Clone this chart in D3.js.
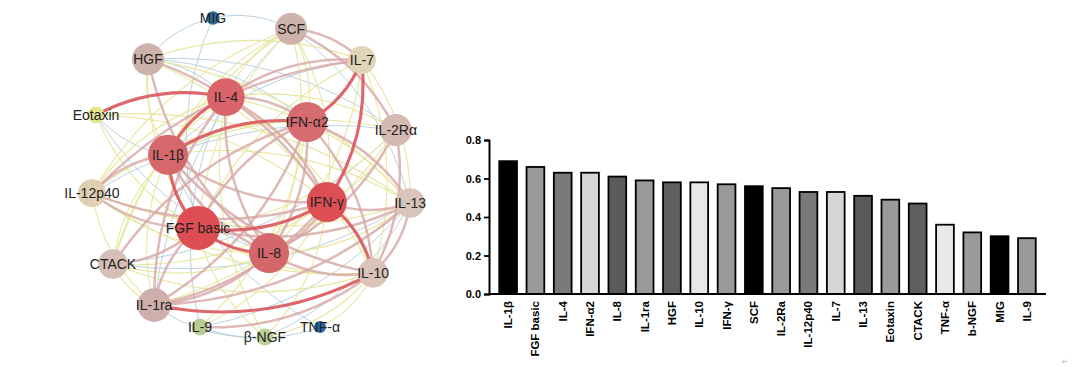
<!DOCTYPE html>
<html>
<head>
<meta charset="utf-8">
<script src="https://cdn.jsdelivr.net/npm/d3@7"></script>
<style>
  body { margin: 0; background: #ffffff; }
  svg { display: block; font-family: "Liberation Sans", Arial, sans-serif; }
</style>
</head>
<body>
<div id="chart"></div>
<script>
// network nodes (layout coordinates in a 0-100 unit space)
const nodeNames = ['MIG', 'SCF', 'HGF', 'IL-7', 'IL-4', 'Eotaxin', 'IFN-α2', 'IL-2Rα', 'IL-1β', 'IL-12p40',
    'IFN-γ', 'IL-13', 'FGF basic', 'IL-8', 'CTACK', 'IL-10', 'IL-1ra', 'IL-9', 'β-NGF', 'TNF-α'];
const layoutX = [39.1, 62.1, 20.0, 82.9, 42.9, 4.7, 66.8, 92.9, 25.9, 3.5,
    72.6, 97.1, 34.7, 55.6, 9.7, 86.2, 21.8, 35.3, 54.4, 70.6];
const layoutY = [0, 3.4, 12.9, 13.2, 24.8, 30.4, 32.6, 35.1, 42.9, 54.9,
    57.7, 58.0, 65.8, 73.7, 77.1, 79.9, 90.0, 96.9, 100, 96.9];
const nodeDegree = [3, 14.5, 14.5, 12, 18, 5, 19.5, 14.5, 19.5, 12,
    19.5, 13, 22, 19.5, 13, 13, 15.5, 5, 5, 2];
const nodeColors = ['#2f6f9a', '#cdb3ab', '#cdb2ab', '#e2d4b6', '#d9656b', '#e4e68c', '#d66b70', '#d4bab2', '#d6686c', '#e0cfb2',
    '#dd4f53', '#d9c4b9', '#de4d52', '#d4676b', '#d5bfb6', '#dac3b8', '#ceafac', '#b9cd93', '#bccf96', '#2a6aa6'];

// edges by correlation strength
const strongEdges = [
    ['Eotaxin', 'IL-4'], ['IL-4', 'IL-1β'], ['IL-7', 'IFN-α2'], ['IL-7', 'IFN-γ'], ['IFN-γ', 'IL-10'],
    ['IL-10', 'IL-1ra'], ['IFN-α2', 'IL-1β'], ['IL-1β', 'FGF basic'], ['FGF basic', 'IFN-γ'], ['FGF basic', 'IL-8']
];
const mediumEdges = [
    ['IL-12p40', 'IL-7'], ['SCF', 'IL-7'], ['SCF', 'IL-2Rα'], ['IL-1β', 'IL-12p40'], ['IL-1β', 'IL-8'],
    ['IL-1β', 'IFN-γ'], ['IL-1β', 'IL-10'], ['IL-4', 'IFN-γ'], ['IL-4', 'IL-8'], ['IL-4', 'IL-1ra'],
    ['IL-4', 'IL-7'], ['IFN-α2', 'IL-8'], ['IFN-α2', 'IL-1ra'], ['IFN-α2', 'IL-10'], ['IFN-α2', 'IL-13'],
    ['IFN-γ', 'IL-13'], ['IFN-γ', 'IL-8'], ['IFN-γ', 'IL-1ra'], ['FGF basic', 'IL-12p40'], ['FGF basic', 'IL-1ra'],
    ['FGF basic', 'IL-13'], ['FGF basic', 'CTACK'], ['IL-8', 'IL-10'], ['IL-8', 'IL-1ra'], ['IL-8', 'IL-2Rα'],
    ['IL-9', 'IL-10'], ['IL-13', 'IL-10'], ['HGF', 'IFN-γ'], ['CTACK', 'IFN-α2'], ['IL-2Rα', 'IL-10'],
    ['IL-12p40', 'IFN-γ'], ['IL-1ra', 'IL-13'], ['HGF', 'IL-8'], ['IL-4', 'IFN-α2'], ['IFN-α2', 'FGF basic']
];
const weakEdges = [
    ['HGF', 'IL-7'], ['SCF', 'IL-1β'], ['SCF', 'FGF basic'], ['SCF', 'IL-8'], ['SCF', 'IL-4'],
    ['SCF', 'IFN-γ'], ['SCF', 'IL-12p40'], ['SCF', 'CTACK'], ['HGF', 'IL-1β'], ['HGF', 'FGF basic'],
    ['HGF', 'IL-13'], ['HGF', 'IL-10'], ['IL-7', 'IL-13'], ['IL-7', 'IL-10'], ['IL-7', 'IL-8'],
    ['IL-7', 'FGF basic'], ['Eotaxin', 'FGF basic'], ['Eotaxin', 'IFN-γ'], ['Eotaxin', 'IL-13'], ['IL-12p40', 'IL-13'],
    ['IL-12p40', 'IL-8'], ['IL-12p40', 'IFN-α2'], ['IL-12p40', 'IL-10'], ['IL-12p40', 'IL-4'], ['CTACK', 'IL-4'],
    ['CTACK', 'IFN-γ'], ['CTACK', 'IL-8'], ['CTACK', 'IL-1β'], ['CTACK', 'IL-10'], ['IL-2Rα', 'IL-1β'],
    ['IL-2Rα', 'FGF basic'], ['IL-2Rα', 'IL-1ra'], ['IL-2Rα', 'IFN-γ'], ['IL-2Rα', 'IL-4'], ['IL-13', 'IL-4'],
    ['IL-13', 'IL-8'], ['IL-13', 'IL-1β'], ['IL-10', 'IL-4'], ['IL-10', 'FGF basic'], ['IL-1ra', 'IL-1β'],
    ['IL-1ra', 'IL-12p40'], ['IL-1ra', 'CTACK'], ['IL-9', 'IFN-γ'], ['IL-9', 'IFN-α2'], ['β-NGF', 'IL-10'],
    ['β-NGF', 'FGF basic'], ['β-NGF', 'IFN-γ'], ['β-NGF', 'IL-4'], ['TNF-α', 'IL-10'], ['SCF', 'IFN-α2']
];
const faintEdges = [
    ['MIG', 'SCF'], ['MIG', 'HGF'], ['MIG', 'FGF basic'], ['TNF-α', 'IL-9'], ['TNF-α', 'IL-1β'],
    ['β-NGF', 'IL-1ra'], ['β-NGF', 'IL-13'], ['IL-9', 'IL-4'], ['Eotaxin', 'IL-1β'], ['Eotaxin', 'IL-8'],
    ['HGF', 'IL-4'], ['HGF', 'IFN-α2'], ['HGF', 'IL-2Rα'], ['SCF', 'IL-13'], ['SCF', 'IL-1ra'],
    ['IL-7', 'IL-1β'], ['IL-2Rα', 'IL-12p40'], ['IL-2Rα', 'CTACK'], ['IL-13', 'CTACK'], ['IL-13', 'IL-9']
];

// bar chart data
const barCategories = ['IL-1β', 'FGF basic', 'IL-4', 'IFN-α2', 'IL-8', 'IL-1ra', 'HGF', 'IL-10', 'IFN-γ', 'SCF',
    'IL-2Ra', 'IL-12p40', 'IL-7', 'IL-13', 'Eotaxin', 'CTACK', 'TNF-α', 'b-NGF', 'MIG', 'IL-9'];
const barValues = [0.69, 0.66, 0.63, 0.63, 0.61, 0.59, 0.58, 0.58, 0.57, 0.56,
    0.55, 0.53, 0.53, 0.51, 0.49, 0.47, 0.36, 0.32, 0.30, 0.29];
const barFills = ['#000000', '#9a9a9a', '#7a7a7a', '#d6d6d6', '#5a5a5a', '#9a9a9a', '#5f5f5f', '#e8e8e8', '#9a9a9a'];
const yTicks = [0.0, 0.2, 0.4, 0.6, 0.8];

const width = 1080, height = 367;

const svg = d3.select('#chart')
    .append('svg')
    .attr('width', width)
    .attr('height', height);

// ---------- network ----------
const nx = d3.scaleLinear().domain([0, 100]).range([80, 420]);
const ny = d3.scaleLinear().domain([0, 100]).range([18, 337]);
const nr = d3.scaleLinear().domain([2, 22]).range([6, 22]);

const nodes = nodeNames.map((name, i) => ({
    id: name,
    x: nx(layoutX[i]),
    y: ny(layoutY[i]),
    r: nr(nodeDegree[i]),
    fill: nodeColors[i]
}));
const nodeById = new Map(nodes.map(d => [d.id, d]));
const centre = { x: nx(50), y: ny(50) };

const edgeStyles = [
    { edges: faintEdges, stroke: '#a9c7d8', width: 0.9, opacity: 0.9 },
    { edges: weakEdges, stroke: '#e6e69a', width: 1.1, opacity: 0.95 },
    { edges: mediumEdges, stroke: '#d6a8a5', width: 2.5, opacity: 0.8 },
    { edges: strongEdges, stroke: '#d9565c', width: 3.1, opacity: 0.9 }
];

function edgePath(e) {
    const s = nodeById.get(e[0]), t = nodeById.get(e[1]);
    const dx = t.x - s.x, dy = t.y - s.y;
    const len = Math.sqrt(dx * dx + dy * dy);
    let px = -dy / len, py = dx / len;
    const mx = (s.x + t.x) / 2, my = (s.y + t.y) / 2;
    if (px * (mx - centre.x) + py * (my - centre.y) < 0) { px = -px; py = -py; }
    const k = 0.18 * len;
    const path = d3.path();
    path.moveTo(s.x, s.y);
    path.quadraticCurveTo(mx + px * k, my + py * k, t.x, t.y);
    return path.toString();
}

const edgeLayer = svg.append('g').attr('class', 'edges');
edgeStyles.forEach(style => {
    edgeLayer.append('g')
        .selectAll('path')
        .data(style.edges)
        .enter().append('path')
        .attr('d', edgePath)
        .attr('fill', 'none')
        .attr('stroke', style.stroke)
        .attr('stroke-width', style.width)
        .attr('stroke-opacity', style.opacity)
        .attr('stroke-linecap', 'round');
});

const node = svg.append('g')
    .attr('class', 'nodes')
    .selectAll('g')
    .data(nodes)
    .enter().append('g')
    .attr('transform', d => `translate(${d.x},${d.y})`);

node.append('circle')
    .attr('r', d => d.r)
    .attr('fill', d => d.fill);

node.append('text')
    .attr('text-anchor', 'middle')
    .attr('dy', '0.36em')
    .attr('font-size', 14)
    .attr('fill', '#222222')
    .text(d => d.id);

// ---------- bar chart ----------
const x = d3.scaleBand()
    .domain(barCategories)
    .range([489, 1046])
    .paddingInner(0.35)
    .paddingOuter(0.375);

const y = d3.scaleLinear()
    .domain([0, 0.8])
    .range([294, 140]);

const bars = svg.append('g').attr('class', 'bars');

bars.selectAll('rect')
    .data(barValues)
    .enter().append('rect')
    .attr('x', (d, i) => x(barCategories[i]))
    .attr('y', d => y(d))
    .attr('width', x.bandwidth())
    .attr('height', d => y(0) - y(d))
    .attr('fill', (d, i) => barFills[i % barFills.length])
    .attr('stroke', '#000000')
    .attr('stroke-width', 1.8);

const yAxis = svg.append('g')
    .attr('transform', 'translate(489,0)')
    .call(d3.axisLeft(y).tickValues(yTicks).tickFormat(d3.format('.1f')).tickSize(5).tickPadding(3));
yAxis.select('.domain').attr('stroke-width', 2);
yAxis.selectAll('.tick line').attr('stroke-width', 1.8);
yAxis.selectAll('text')
    .attr('font-size', 11)
    .attr('font-weight', 'bold')
    .attr('font-family', '"Liberation Sans", Arial, sans-serif')
    .attr('fill', '#000');

svg.append('line')
    .attr('x1', 488)
    .attr('x2', 1046)
    .attr('y1', y(0))
    .attr('y2', y(0))
    .attr('stroke', '#000')
    .attr('stroke-width', 2);

svg.append('g')
    .selectAll('text')
    .data(barCategories)
    .enter().append('text')
    .attr('transform', d => `translate(${x(d) + x.bandwidth() / 2 + 4},301) rotate(-90)`)
    .attr('text-anchor', 'end')
    .attr('font-size', 11.5)
    .attr('font-weight', 'bold')
    .attr('fill', '#000')
    .text(d => d);

svg.append('text')
    .attr('x', 1062)
    .attr('y', 364)
    .attr('font-size', 7)
    .attr('fill', '#aaaaaa')
    .text('↵');
</script>
</body>
</html>
